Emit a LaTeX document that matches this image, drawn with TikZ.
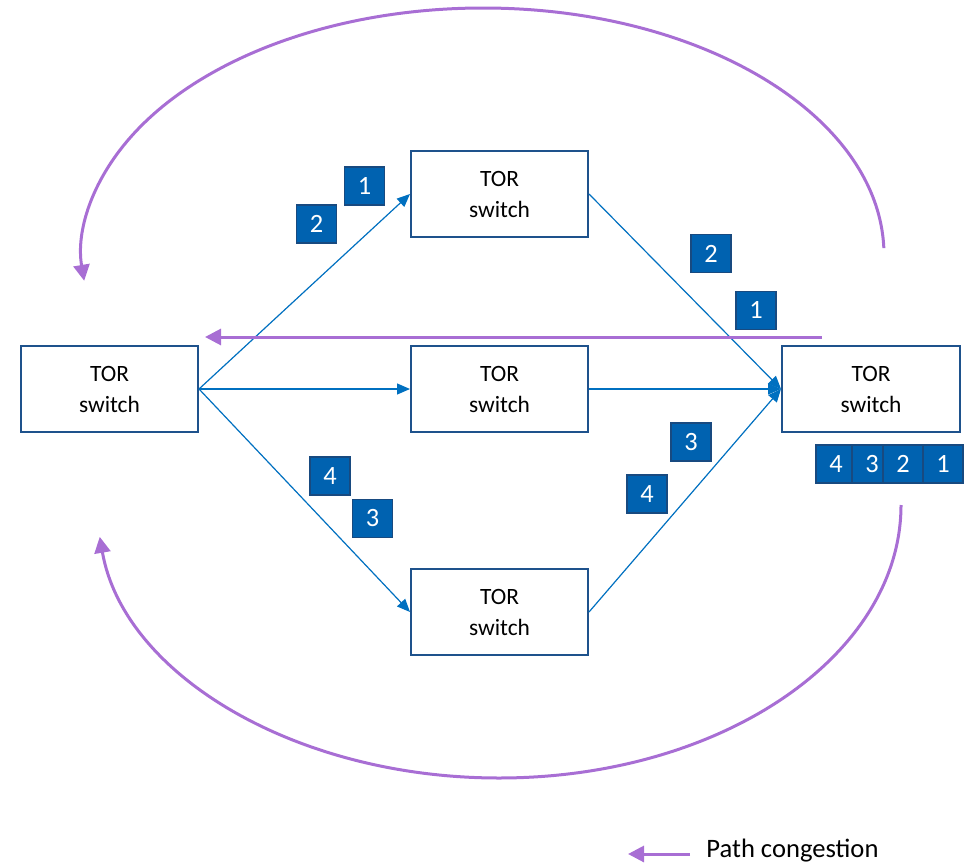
\documentclass[tikz,border=0pt]{standalone}
\usepackage{fontspec}
\setmainfont{Carlito}
\usetikzlibrary{arrows.meta}
\definecolor{boxedge}{RGB}{30,82,140}
\definecolor{linkblue}{RGB}{0,112,192}
\definecolor{pktfill}{RGB}{0,98,176}
\definecolor{pktedge}{RGB}{24,74,128}
\definecolor{congest}{RGB}{168,110,212}
\tikzset{
  torbox/.style={draw=boxedge, line width=1pt, fill=white,
    minimum width=88.5pt, minimum height=43pt, inner sep=0pt,
    align=center, font=\fontsize{11.7}{15.5}\selectfont},
  pkt/.style={draw=pktedge, line width=0.8pt, fill=pktfill, text=white,
    minimum width=20pt, minimum height=19pt, inner sep=0pt,
    font=\fontsize{13.2}{14}\selectfont},
  link/.style={draw=linkblue, line width=0.6pt,
    -{Triangle[length=6.5pt, width=5.5pt]}},
  jam/.style={draw=congest, line width=1.5pt,
    -{Triangle[length=8pt, width=8pt]}}
}
\begin{document}
\begin{tikzpicture}[x=0.5pt, y=0.5pt]
  \useasboundingbox (0,0) rectangle (972,863);

  % congestion loops behind everything
  \draw[jam] (483,608) ++(1.6:200.5pt and 123.5pt)
    arc[start angle=1.6, end angle=186, x radius=200.5pt, y radius=123.5pt];
  \draw[jam] (499,358) ++(0:201pt and 136.5pt)
    arc[start angle=0, end angle=-173.3, x radius=201pt, y radius=136.5pt];

  % switches
  \node[torbox] (src) at (109.5,474) {TOR\\switch};
  \node[torbox] (up)  at (499.5,669) {TOR\\switch};
  \node[torbox] (mid) at (499.5,474) {TOR\\switch};
  \node[torbox] (low) at (499.5,251) {TOR\\switch};
  \node[torbox, minimum width=89pt] (dst) at (871,474) {TOR\\switch};

  % paths through the fabric
  \draw[link] (src.east) -- (up.west);
  \draw[link] (src.east) -- (mid.west);
  \draw[link] (src.east) -- (low.west);
  \draw[link] (up.east)  -- (dst.west);
  \draw[link] (mid.east) -- (dst.west);
  \draw[link] (low.east) -- (dst.west);

  % congestion signal back to the sender
  \coordinate (jamstart) at (822,526);
  \coordinate (jamend) at (205,526);
  \draw[jam] (jamstart) -- (jamend);

  % packets in flight
  \node[pkt] (p1a) at (364.5,677) {1};
  \node[pkt] (p2a) at (316.5,639) {2};
  \node[pkt] (p2b) at (711,609.5) {2};
  \node[pkt] (p1b) at (756,552.5) {1};
  \node[pkt] (p4a) at (330,387) {4};
  \node[pkt] (p3a) at (372.5,344.5) {3};
  \node[pkt] (p3b) at (691,421) {3};
  \node[pkt] (p4b) at (647,369) {4};

  % reordered queue at the receiver
  \node[pkt] (q4) at (836,399) {4};
  \node[pkt] (q3) at (872,399) {3};
  \node[pkt] (q2) at (903,399) {2};
  \node[pkt] (q1) at (943,399) {1};

  % legend
  \coordinate (legA) at (690,9);
  \coordinate (legB) at (628,9);
  \draw[jam] (legA) -- (legB);
  \node[anchor=base west, inner sep=0pt, font=\fontsize{13.3}{15}\selectfont]
    (legtext) at (706,6) {Path congestion};
\end{tikzpicture}
\end{document}
